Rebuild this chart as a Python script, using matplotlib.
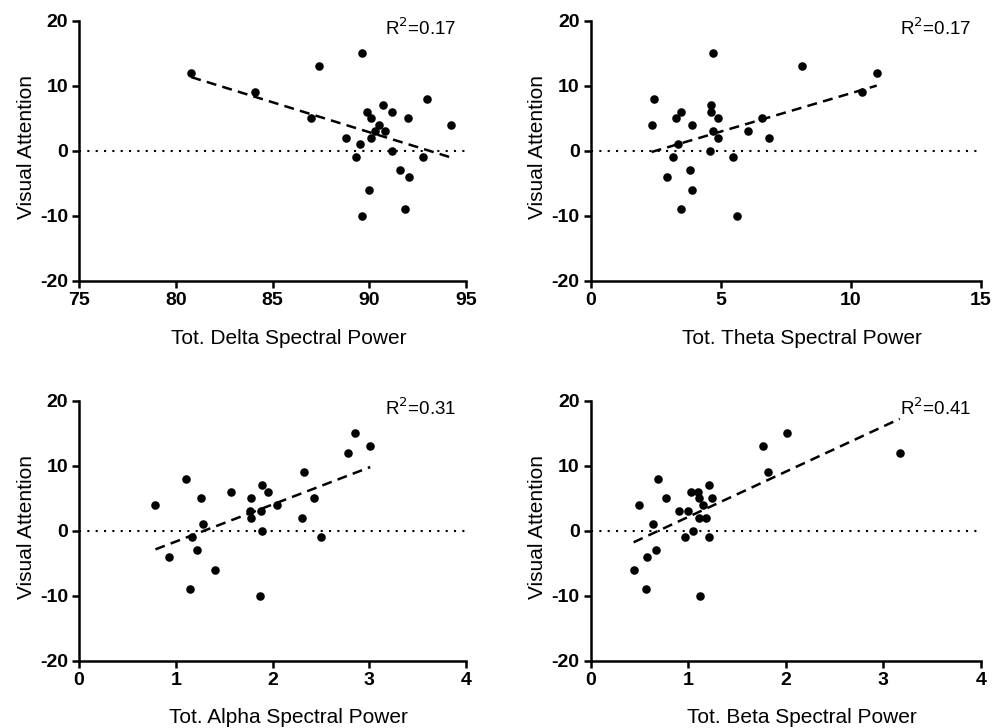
import numpy as np
import matplotlib
matplotlib.use("Agg")
import matplotlib.pyplot as plt

plt.rcParams['font.family'] = ['Liberation Sans', 'DejaVu Sans']
plt.rcParams['axes.unicode_minus'] = False

# ---- data ----
delta_x = [80.8, 84.1, 87.4, 89.65, 87.0, 93.0, 94.2, 90.7, 89.9, 91.2, 90.1, 92.0, 90.5,
           90.8, 90.3, 88.8, 90.1, 89.5, 91.2, 89.3, 92.8, 91.6, 92.05, 90.0, 91.85, 89.6]
delta_y = [12, 9, 13, 15, 5, 8, 4, 7, 6, 6, 5, 5, 4,
           3, 3, 2, 2, 1, 0, -1, -1, -3, -4, -6, -9, -10]

theta_x = [4.70, 8.14, 11.0, 10.44, 2.44, 4.64, 3.49, 4.61, 3.29, 4.90, 6.58, 2.34, 3.88,
           4.70, 6.05, 4.91, 6.86, 3.35, 4.60, 3.15, 5.48, 2.92, 3.80, 3.89, 3.46, 5.62]
theta_y = [15, 13, 12, 9, 8, 7, 6, 6, 5, 5, 5, 4, 4,
           3, 3, 2, 2, 1, 0, -1, -1, -4, -3, -6, -9, -10]

alpha_x = [0.79, 1.11, 1.26, 1.57, 1.78, 1.89, 1.95, 1.77, 1.88, 1.78, 2.05, 2.33, 2.43,
           2.31, 2.78, 2.85, 3.01, 1.28, 1.89, 1.17, 2.50, 0.93, 1.22, 1.41, 1.15, 1.87]
alpha_y = [4, 8, 5, 6, 5, 7, 6, 3, 3, 2, 4, 9, 5,
           2, 12, 15, 13, 1, 0, -1, -1, -4, -3, -6, -9, -10]

beta_x = [0.50, 0.69, 0.77, 0.64, 1.03, 1.10, 1.21, 1.11, 1.24, 1.15, 0.91, 1.00, 1.11,
          1.18, 1.05, 0.97, 1.21, 1.77, 2.01, 1.82, 3.17, 0.67, 0.58, 0.44, 0.57, 1.12]
beta_y = [4, 8, 5, 1, 6, 6, 7, 5, 5, 4, 3, 3, 2,
          2, 0, -1, -1, 13, 15, 9, 12, -3, -4, -6, -9, -10]

panels = [
    dict(x=delta_x, y=delta_y, xlabel="Tot. Delta Spectral Power", xlim=(75, 95),
         xticks=[75, 80, 85, 90, 95], r2="0.17"),
    dict(x=theta_x, y=theta_y, xlabel="Tot. Theta Spectral Power", xlim=(0, 15),
         xticks=[0, 5, 10, 15], r2="0.17"),
    dict(x=alpha_x, y=alpha_y, xlabel="Tot. Alpha Spectral Power", xlim=(0, 4),
         xticks=[0, 1, 2, 3, 4], r2="0.31"),
    dict(x=beta_x, y=beta_y, xlabel="Tot. Beta Spectral Power", xlim=(0, 4),
         xticks=[0, 1, 2, 3, 4], r2="0.41"),
]
yticks = [-20, -10, 0, 10, 20]

W, H = 993, 728
fig = plt.figure(figsize=(W / 100, H / 100), dpi=100)

# axes boxes in pixels: left, top, right, bottom
boxes = [(79, 20.7, 466, 281), (590.7, 20.7, 980.7, 281),
         (79, 400.7, 466, 660.7), (590.7, 400.7, 980.7, 660.7)]

for p, (l, t, r, b) in zip(panels, boxes):
    ax = fig.add_axes([l / W, 1 - b / H, (r - l) / W, (b - t) / H])
    x = np.array(p["x"]); y = np.array(p["y"])
    ax.axhline(0, color='black', linestyle=(0, (1, 3)), linewidth=1.5, zorder=1)
    ax.scatter(x, y, s=38, color='black', zorder=3, linewidths=0)
    k, c = np.polyfit(x, y, 1)
    xs = np.array([x.min(), x.max()])
    ax.plot(xs, k * xs + c, color='black', linestyle=(0, (4, 2.5)), linewidth=1.8, zorder=2)
    ax.set_xlim(*p["xlim"])
    ax.set_ylim(-20, 20)
    ax.set_xticks(p["xticks"])
    ax.set_yticks(yticks)
    for lab in ax.get_xticklabels() + ax.get_yticklabels():
        lab.set_fontweight('bold')
    ax.tick_params(axis='both', labelsize=14, width=1.8, length=5, direction='out', pad=3)
    for s in ['top', 'right']:
        ax.spines[s].set_visible(False)
    for s in ['left', 'bottom']:
        ax.spines[s].set_linewidth(1.8)
    ax.set_xlabel(p["xlabel"], fontsize=15, labelpad=14)
    ax.xaxis.label.set_x(0.542)
    ax.set_ylabel("Visual Attention", fontsize=15, labelpad=3)
    ax.yaxis.label.set_y(0.515)
    ax.text(0.975, 0.97, "R$^2$=" + p["r2"], transform=ax.transAxes, ha='right', va='center',
            fontsize=13.5)
    ax.patch.set_alpha(0)

fig.savefig("out.png", dpi=100)
